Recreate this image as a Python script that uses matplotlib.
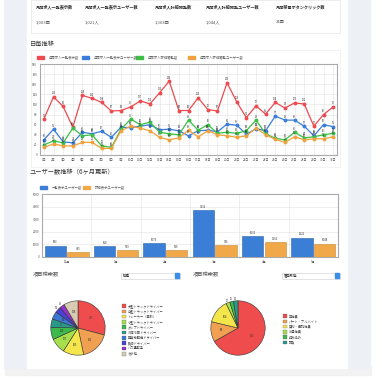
import matplotlib
matplotlib.use("Agg")
import matplotlib.pyplot as plt
from matplotlib.patches import Rectangle
import numpy as np

plt.rcParams['font.family'] = ['Noto Sans CJK JP', 'DejaVu Sans']

W = H = 382.0

# summary table
summary_heads = ["月間求人一覧表示数", "月間求人一覧表示ユーザー数", "月間求人詳細閲覧数",
                 "月間求人詳細閲覧ユーザー数", "月間架電ボタンクリック数"]
summary_vals = ["3,003回", "1,021人", "1,303回", "1,044人", "24回"]

# daily chart
days = list(range(1, 32))
day_labels = [f"{d}日" for d in days]
line_names = ["月間求人一覧表示数", "月間求人一覧表示ユーザー数", "月間求人詳細閲覧数", "月間求人詳細閲覧ユーザー数"]
list_views = [71, 115, 96, 55, 118, 112, 104, 87, 88, 95, 107, 101, 123, 146, 88, 88,
              113, 90, 87, 143, 105, 74, 97, 81, 104, 93, 103, 101, 57, 80, 95]
list_users = [30, 51, 26, 24, 45, 42, 47, 35, 55, 54, 57, 60, 50, 51, 48, 38,
              48, 49, 46, 61, 59, 41, 52, 48, 77, 69, 69, 57, 38, 60, 56]
detail_views = [20, 28, 24, 53, 38, 40, 18, 15, 51, 71, 60, 65, 45, 42, 40, 69,
                49, 60, 43, 45, 43, 48, 69, 42, 33, 30, 45, 34, 36, 40, 43]
detail_users = [15, 22, 18, 18, 25, 25, 13, 13, 48, 57, 53, 48, 35, 30, 34, 49,
                36, 48, 40, 38, 35, 38, 53, 40, 31, 25, 36, 30, 32, 32, 36]
line_colors = ["#ec4b50", "#3b7dd8", "#3cbf46", "#f0a23e"]

# monthly users
months = ["12月", "1月", "2月", "3月", "4月", "5月"]
bar_names = ["一覧表示ユーザー数", "詳細表示ユーザー数"]
list_month = [893, 858, 1075, 3716, 1631, 1521]
detail_month = [383, 519, 536, 936, 1161, 1048]

# pies
job_labels = ["大型トラックドライバー", "中型トラックドライバー", "トレーラー（牽引）", "小型トラックドライバー",
              "ダンプドライバー", "冷凍冷蔵ドライバー", "軽貨物配送ドライバー", "路線ドライバー", "バス運転手", "その他"]
job_counts = [437, 263, 185, 137, 110, 75, 68, 52, 45, 128]
job_colors = ["#ef4d4d", "#f0a050", "#f3e54a", "#a5e04c", "#3db84a", "#2a9a88",
              "#3b78d2", "#4a3fd6", "#9532c8", "#d8cbb2"]
emp_labels = ["正社員", "パート・アルバイト", "契約・嘱託社員", "派遣社員", "持ち込み", "請負"]
emp_counts = [493, 88, 104, 17, 16, 20]
emp_colors = ["#ef4d4d", "#f0a050", "#f3e54a", "#a5e04c", "#3db84a", "#2a9a88"]


def fx(x):
    return x / W


def fy(y):
    return 1 - y / H


def ax_box(x0, y0, x1, y1):
    return [fx(x0), fy(y1), fx(x1) - fx(x0), fy(y0) - fy(y1)]


def rect(x0, y0, x1, y1, z=-1, **kw):
    fig.patches.append(Rectangle((fx(x0), fy(y1)), (x1 - x0) / W, (y1 - y0) / H,
                                 transform=fig.transFigure, zorder=z, **kw))


fig = plt.figure(figsize=(3.82, 3.82), dpi=100)
fig.patch.set_facecolor("white")

# page card
rect(5, 366, 371, 375, z=-4, color="#f2f2f2")
rect(4, 0, 370, 368, z=-3, color="#edf0f5")
rect(27, 0, 347, 368, z=-2, color="white")

# summary table
rect(31, 0, 340, 33, facecolor="white", edgecolor="#e6e6e6", lw=0.5)
for i, (h, v) in enumerate(zip(summary_heads, summary_vals)):
    x = [36, 85, 155, 206, 276][i]
    fig.text(fx(x), fy(7), h, fontsize=3, color="#333333", weight="bold", va="center")
    fig.text(fx(x), fy(22), v, fontsize=3, color="#555555", va="center")

# ---- daily line chart
fig.text(fx(30), fy(44), "日毎推移", fontsize=4.5, color="#333333", va="center")
rect(31, 50, 340, 167, facecolor="white", edgecolor="#eeeeee", lw=0.5)
for i, name in enumerate(line_names):
    x = [37, 82, 136, 188][i]
    rect(x, 56, x + 7, 58.5, z=2, color=line_colors[i])
    fig.text(fx(x + 12), fy(57), name, fontsize=2.4, color="#666666", va="center")

ax = fig.add_axes(ax_box(40, 64, 337, 155))
series = [list_views, list_users, detail_views, detail_users]
for vals, c in zip(series, line_colors):
    ax.plot(days, vals, color=c, lw=0.9, marker="o", ms=1.8, zorder=3)
    for d, v in zip(days, vals):
        ax.text(d, v + 3, str(v), fontsize=1.8, ha="center", va="bottom", color="#333333", zorder=4)
ax.set_xlim(0.6, 31.4)
ax.set_ylim(0, 180)
ax.set_yticks(range(0, 181, 20))
ax.set_xticks(days)
ax.set_xticklabels(day_labels)
ax.tick_params(labelsize=2.2, length=0, pad=2, colors="#555555")
ax.grid(True, color="#e4e4e4", lw=0.4)
for s in ax.spines.values():
    s.set_color("#aaaaaa")
    s.set_linewidth(0.8)

# ---- monthly bar chart
fig.text(fx(30), fy(172), "ユーザー数推移（6ヶ月更新）", fontsize=4.5, color="#333333", va="center")
for i, name in enumerate(bar_names):
    x = [40, 83][i]
    rect(x, 186, x + 7, 188.5, z=2, color=["#3a7fd5", "#f0a848"][i])
    fig.text(fx(x + 12), fy(187), name, fontsize=2.4, color="#666666", va="center")

ax2 = fig.add_axes(ax_box(42, 194, 338, 257))
xs = np.arange(len(months))
ax2.bar(xs - 0.23, list_month, width=0.43, color="#3a7fd5", edgecolor="#2c64ae", lw=0.4, zorder=3)
ax2.bar(xs + 0.23, detail_month, width=0.43, color="#f0a848", edgecolor="#c98a35", lw=0.4, zorder=3)
for x, v in zip(xs, list_month):
    ax2.text(x - 0.23, v + 120, str(v), fontsize=2, ha="center", va="bottom", color="#333333")
for x, v in zip(xs, detail_month):
    ax2.text(x + 0.23, v + 120, str(v), fontsize=2, ha="center", va="bottom", color="#333333")
ax2.set_xlim(-0.5, 5.5)
ax2.set_ylim(0, 5000)
ax2.set_yticks(range(0, 5001, 1000))
ax2.set_xticks(xs)
ax2.set_xticklabels(months)
ax2.set_xticks(np.arange(0.5, 5.5, 1), minor=True)
ax2.grid(True, which="minor", axis="x", color="#e4e4e4", lw=0.4)
ax2.grid(True, which="major", axis="y", color="#e4e4e4", lw=0.4)
ax2.tick_params(labelsize=2.2, length=0, pad=2, colors="#555555")
ax2.tick_params(which="minor", length=0)
for s in ax2.spines.values():
    s.set_color("#aaaaaa")
    s.set_linewidth(0.8)


# ---- pies
def pie_panel(cx, cy, r, counts, colors, labels, title_x, title, sel_x0, sel_x1, sel_text, leg_x, leg_y):
    fig.text(fx(title_x), fy(275), title, fontsize=3.8, color="#555555", va="center")
    rect(sel_x0, 272.5, sel_x1, 278.5, z=2, facecolor="white", edgecolor="#cccccc", lw=0.4)
    fig.text(fx(sel_x0 + 2), fy(275.5), sel_text, fontsize=2.4, color="#333333", va="center")
    rect(sel_x1 - 5, 273, sel_x1 - 1, 278, z=3, color="#3b8ee8")
    pax = fig.add_axes(ax_box(cx - r - 6, cy - r - 6, cx + r + 6, cy + r + 6))
    tot = sum(counts)
    pax.pie(counts, colors=colors, startangle=90, counterclock=False,
            wedgeprops=dict(edgecolor="#333333", linewidth=0.4), radius=r / (r + 6))
    pax.set_aspect("equal")
    ang = 90
    for v in counts:
        frac = v / tot
        mid = np.deg2rad(ang - frac * 180)
        ang -= frac * 360
        rr = (0.62 if frac > 0.045 else 1.08) * r / (r + 6)
        pax.text(rr * np.cos(mid), rr * np.sin(mid), str(v), fontsize=1.9, ha="center",
                 va="center", color="#333333")
    for i, (lab, c) in enumerate(zip(labels, colors)):
        y = leg_y + i * 5.3
        rect(leg_x, y - 1.8, leg_x + 3.6, y + 1.8, z=2, facecolor=c, edgecolor="#555555", lw=0.2)
        fig.text(fx(leg_x + 6), fy(y), lab, fontsize=2.3, color="#444444", va="center")


pie_panel(78, 328, 34, job_counts, job_colors, job_labels, 33, "項目検索数",
          121, 180, "職種", 122, 306)
pie_panel(238, 328, 34, emp_counts, emp_colors, emp_labels, 193, "項目検索数",
          282, 340, "雇用形態", 283, 316)

fig.savefig("out.png", dpi=100)
